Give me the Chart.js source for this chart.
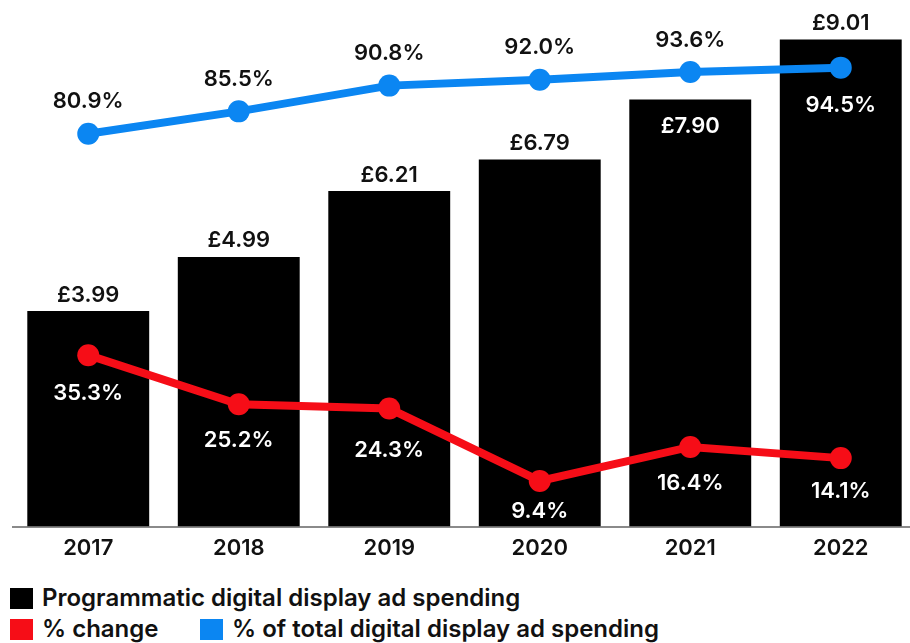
<!DOCTYPE html>
<html lang="en">
<head>
  <meta charset="UTF-8">
  <title>Programmatic digital display ad spending</title>
  <script src="https://cdn.jsdelivr.net/npm/chart.js"></script>
  <style>
    html, body {
      margin: 0;
      padding: 0;
      background: #fff;
      overflow: hidden;
      width: 910px;
      height: 643px;
    }
    #wrap {
      position: relative;
      width: 916px;
      height: 643px;
    }
    #legend {
      position: absolute;
      left: 0;
      top: 0;
      font-family: Inter, sans-serif;
      font-weight: 600;
      font-size: 24px;
      color: #111;
    }
    .item {
      position: absolute;
      white-space: nowrap;
      line-height: 24px;
    }
    .swatch {
      position: absolute;
      width: 23px;
      height: 21px;
      left: -32px;
      top: 2px;
    }
  </style>
</head>
<body>
  <div id="wrap">
    <canvas id="adChart" width="916" height="571"></canvas>
    <div id="legend"></div>
  </div>
  <script>
    const years = ['2017', '2018', '2019', '2020', '2021', '2022'];
    const spending = [3.99, 4.99, 6.21, 6.79, 7.90, 9.01];
    const pctChange = [35.3, 25.2, 24.3, 9.4, 16.4, 14.1];
    const pctOfTotal = [80.9, 85.5, 90.8, 92.0, 93.6, 94.5];

    const seriesNames = [
      'Programmatic digital display ad spending',
      '% change',
      '% of total digital display ad spending'
    ];

    const BLACK = '#000000';
    const RED = '#f60d17';
    const BLUE = '#0b86f2';

    // where each value label sits relative to its mark
    const barLabelPlace = ['above', 'above', 'above', 'above', 'inside', 'above'];
    const blueLabelPlace = ['above', 'above', 'above', 'above', 'above', 'below'];
    const redLabelGap = [38, 36, 42, 30, 36, 33];

    const labelFont = '600 22px Inter, sans-serif';

    const valueLabels = {
      id: 'valueLabels',
      afterDatasetsDraw(chart) {
        const ctx = chart.ctx;
        ctx.save();
        ctx.font = labelFont;
        ctx.textAlign = 'center';
        ctx.textBaseline = 'middle';

        chart.getDatasetMeta(0).data.forEach((bar, i) => {
          const text = '£' + spending[i].toFixed(2);
          if (barLabelPlace[i] === 'inside') {
            ctx.fillStyle = '#fff';
            ctx.fillText(text, bar.x, bar.y + 27);
          } else {
            ctx.fillStyle = '#111';
            ctx.fillText(text, bar.x, bar.y - 16);
          }
        });

        chart.getDatasetMeta(1).data.forEach((pt, i) => {
          ctx.fillStyle = '#fff';
          ctx.fillText(pctChange[i].toFixed(1) + '%', pt.x, pt.y + redLabelGap[i]);
        });

        chart.getDatasetMeta(2).data.forEach((pt, i) => {
          const text = pctOfTotal[i].toFixed(1) + '%';
          if (blueLabelPlace[i] === 'below') {
            ctx.fillStyle = '#fff';
            ctx.fillText(text, pt.x, pt.y + 38);
          } else {
            ctx.fillStyle = '#111';
            ctx.fillText(text, pt.x, pt.y - 32);
          }
        });
        ctx.restore();
      }
    };

    new Chart(document.getElementById('adChart'), {
      data: {
        labels: years,
        datasets: [
          {
            type: 'bar',
            label: seriesNames[0],
            data: spending,
            backgroundColor: BLACK,
            yAxisID: 'y',
            barPercentage: 0.81,
            categoryPercentage: 1,
            order: 3
          },
          {
            type: 'line',
            label: seriesNames[1],
            data: pctChange,
            borderColor: RED,
            backgroundColor: RED,
            borderWidth: 8,
            pointRadius: 11,
            pointBorderWidth: 0,
            tension: 0,
            yAxisID: 'pct',
            order: 2
          },
          {
            type: 'line',
            label: seriesNames[2],
            data: pctOfTotal,
            borderColor: BLUE,
            backgroundColor: BLUE,
            borderWidth: 8,
            pointRadius: 11,
            pointBorderWidth: 0,
            tension: 0,
            yAxisID: 'pct',
            order: 1
          }
        ]
      },
      options: {
        responsive: false,
        animation: false,
        layout: { autoPadding: false, padding: { left: 13, right: 0, top: 5, bottom: 0 } },
        plugins: {
          legend: { display: false },
          tooltip: { enabled: false }
        },
        scales: {
          x: {
            offset: true,
            grid: { display: false, drawTicks: false },
            border: { display: true, color: '#8a8a8a', width: 2 },
            ticks: {
              color: '#111',
              padding: 9,
              font: { family: 'Inter, sans-serif', size: 22, weight: '600' }
            }
          },
          y: { display: false, min: 0, max: 9.65 },
          pct: { display: false, min: 0, max: 107.4 }
        }
      },
      plugins: [valueLabels]
    });

    // two-row legend under the plot
    const legendRows = [
      { name: seriesNames[0], color: BLACK, x: 42, y: 586 },
      { name: seriesNames[1], color: RED, x: 42, y: 617 },
      { name: seriesNames[2], color: BLUE, x: 232, y: 617 }
    ];
    const legend = document.getElementById('legend');
    legendRows.forEach(r => {
      const item = document.createElement('div');
      item.className = 'item';
      item.style.left = r.x + 'px';
      item.style.top = r.y + 'px';
      const sw = document.createElement('span');
      sw.className = 'swatch';
      sw.style.background = r.color;
      item.appendChild(sw);
      item.appendChild(document.createTextNode(r.name));
      legend.appendChild(item);
    });
  </script>
</body>
</html>
